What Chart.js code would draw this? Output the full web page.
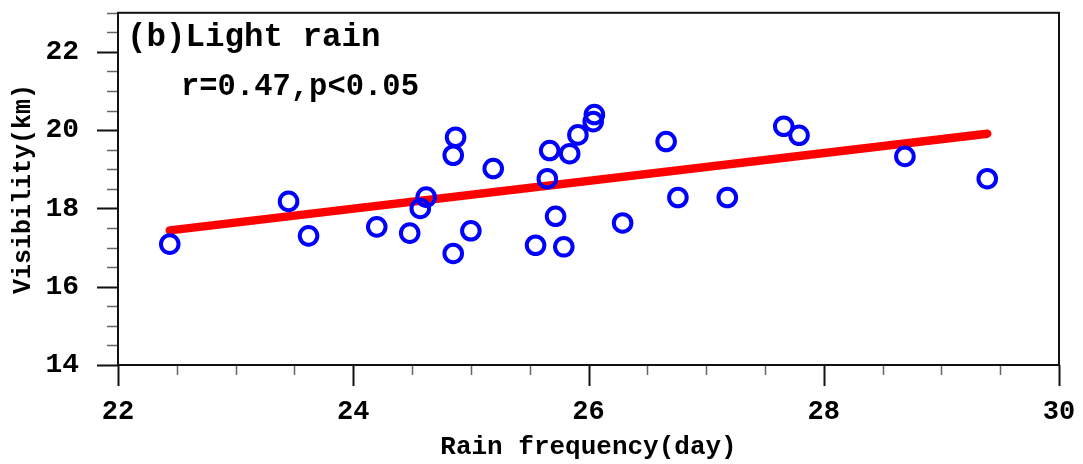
<!DOCTYPE html>
<html>
<head>
<meta charset="utf-8">
<script src="https://cdn.jsdelivr.net/npm/chart.js@4.4.1/dist/chart.umd.min.js"></script>
<style>
html,body{margin:0;padding:0;background:#fff;}
#wrap{width:1083px;height:464px;position:relative;}
</style>
</head>
<body>
<div id="wrap"><canvas id="c" width="1083" height="464"></canvas></div>
<script>
// Scatter data: rain frequency (day) vs visibility (km)
const rainFreq = [22.44, 23.45, 23.62, 24.20, 24.48, 24.57, 24.62, 24.85, 24.85, 24.87,
                  25.00, 25.19, 25.55, 25.65, 25.67, 25.72, 25.79, 25.84, 25.91, 26.04,
                  26.05, 26.29, 26.66, 26.76, 27.18, 27.66, 27.79, 28.69, 29.39];
const visibility = [17.09, 18.18, 17.30, 17.53, 17.37, 18.00, 18.29, 16.85, 19.36, 19.82,
                    17.43, 19.02, 17.06, 18.76, 19.48, 17.80, 17.02, 19.40, 19.88, 20.22,
                    20.40, 17.63, 19.71, 18.28, 18.28, 20.10, 19.87, 19.33, 18.76];
// Regression line end points
const fitX = [22.44, 29.39];
const fitY = [17.44, 19.91];
// Axes
const xMin = 22, xMax = 30, yMin = 14, yMax = 23;
const xTickLabels = [22, 24, 26, 28, 30];
const yTickLabels = [14, 16, 18, 20, 22];
const panelTitle = "(b)Light rain";
const statText = "r=0.47,p<0.05";

const FONT = "'Liberation Mono', 'Courier New', monospace";

const scatterPts = rainFreq.map((x, i) => ({x: x, y: visibility[i]}));
const fitPts = fitX.map((x, i) => ({x: x, y: fitY[i]}));

function zeroPad(s) { s.paddingTop = 0; s.paddingBottom = 0; s.paddingLeft = 0; s.paddingRight = 0; }

const decor = {
  id: 'decor',
  afterDraw(chart) {
    const ctx = chart.ctx;
    const a = chart.chartArea;
    const xs = chart.scales.x, ys = chart.scales.y;
    ctx.save();
    for (let v = xMin; v <= xMax + 1e-9; v += 0.5) {
      const px = Math.round(xs.getPixelForValue(v)) + 0.5;
      const major = xTickLabels.includes(v);
      ctx.beginPath();
      ctx.strokeStyle = major ? '#111' : '#666';
      ctx.lineWidth = major ? 2 : 1.5;
      ctx.moveTo(px, a.bottom);
      ctx.lineTo(px, a.bottom + (major ? 21 : 10));
      ctx.stroke();
    }
    for (let v = yMin; v <= yMax + 1e-9; v += 0.5) {
      const py = Math.round(ys.getPixelForValue(v)) + 0.5;
      const major = yTickLabels.includes(v);
      ctx.beginPath();
      ctx.strokeStyle = major ? '#111' : '#666';
      ctx.lineWidth = major ? 2 : 1.5;
      ctx.moveTo(a.left, py);
      ctx.lineTo(a.left - (major ? 21 : 11), py);
      ctx.stroke();
    }
    ctx.strokeStyle = '#111';
    ctx.lineWidth = 2;
    ctx.strokeRect(a.left, a.top, a.right - a.left, a.bottom - a.top);
    ctx.fillStyle = '#000';
    ctx.textBaseline = 'alphabetic';
    ctx.textAlign = 'left';
    ctx.font = "bold 32.5px " + FONT;
    ctx.fillText(panelTitle, a.left + 9, a.top + 33);
    ctx.font = "bold 30.5px " + FONT;
    ctx.fillText(statText, a.left + 63, a.top + 82);
    ctx.restore();
  }
};

new Chart(document.getElementById('c'), {
  type: 'scatter',
  data: {
    datasets: [
      {
        type: 'line',
        data: fitPts,
        borderColor: '#ff0000',
        borderWidth: 8.5,
        borderCapStyle: 'round',
        pointRadius: 0,
        fill: false,
        order: 2
      },
      {
        data: scatterPts,
        pointStyle: 'circle',
        pointRadius: 8.8,
        pointBorderWidth: 4,
        borderColor: '#0000ff',
        backgroundColor: 'rgba(0,0,0,0)',
        pointHoverRadius: 8.8,
        order: 1
      }
    ]
  },
  options: {
    responsive: false,
    animation: false,
    devicePixelRatio: 1,
    layout: {padding: {left: 0, right: 24, top: 12, bottom: 0}},
    plugins: {legend: {display: false}, tooltip: {enabled: false}},
    scales: {
      x: {
        type: 'linear', min: xMin, max: xMax,
        afterFit: s => { s.height = 99; zeroPad(s); },
        grid: {display: false, drawTicks: false},
        border: {display: false},
        afterBuildTicks: s => { s.ticks = xTickLabels.map(v => ({value: v})); },
        ticks: {
          padding: 31, color: '#000', maxRotation: 0, autoSkip: false,
          font: {family: FONT, size: 27, weight: 'bold'},
          callback: v => String(v)
        },
        title: {
          display: true, text: 'Rain frequency(day)', color: '#000',
          font: {family: FONT, size: 26, weight: 'bold'},
          padding: {top: 0, bottom: 1}
        }
      },
      y: {
        type: 'linear', min: yMin, max: yMax,
        afterFit: s => { s.width = 118; zeroPad(s); },
        grid: {display: false, drawTicks: false},
        border: {display: false},
        afterBuildTicks: s => { s.ticks = yTickLabels.map(v => ({value: v})); },
        ticks: {
          padding: 39, color: '#000', autoSkip: false,
          font: {family: FONT, size: 28, weight: 'bold'},
          callback: v => String(v)
        },
        title: {
          display: true, text: 'Visibility(km)', color: '#000',
          font: {family: FONT, size: 25, weight: 'bold'},
          padding: {top: 9, bottom: 0}
        }
      }
    }
  },
  plugins: [decor]
});
</script>
</body>
</html>
